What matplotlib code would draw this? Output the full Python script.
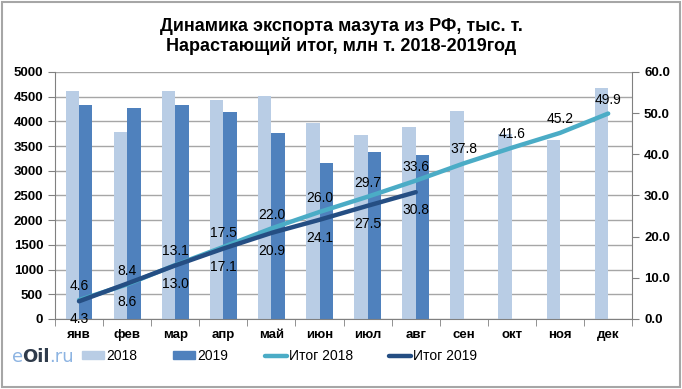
import matplotlib.pyplot as plt
import numpy as np
from matplotlib.patches import Rectangle
from matplotlib.lines import Line2D

plt.rcParams['font.family'] = ['Liberation Sans', 'DejaVu Sans']

# Данные
months = ["янв", "фев", "мар", "апр", "май", "июн", "июл", "авг", "сен", "окт", "ноя", "дек"]
export_2018 = [4620, 3790, 4620, 4430, 4510, 3970, 3730, 3890, 4200, 3750, 3620, 4670]
export_2019 = [4330, 4270, 4330, 4190, 3770, 3150, 3390, 3310]
total_2018 = [4.6, 8.4, 13.1, 17.5, 22.0, 26.0, 29.7, 33.6, 37.8, 41.6, 45.2, 49.9]
total_2019 = [4.3, 8.6, 13.0, 17.1, 20.9, 24.1, 27.5, 30.8]

c18 = "#B9CDE5"
c19 = "#4F81BD"
cl18 = "#4BACC6"
cl19 = "#254E83"

fig = plt.figure(figsize=(6.82, 3.89), dpi=100)
fig.patches.append(Rectangle((0.003, 0.005), 0.994, 0.99, transform=fig.transFigure,
                             fill=False, edgecolor="#A6A6A6", linewidth=1.5))

ax = fig.add_axes([0.0806, 0.18, 0.8464, 0.635])
x = np.arange(len(months))
w = 0.28
ax.bar(x[:len(export_2018)] - w / 2, export_2018, width=w, color=c18, zorder=2)
ax.bar(x[:len(export_2019)] + w / 2, export_2019, width=w, color=c19, zorder=2)
ax.set_xlim(-0.5, 11.5)
ax.set_ylim(0, 5000)
ax.set_yticks(range(0, 5001, 500))
ax.yaxis.grid(True, color="#A6A6A6", linewidth=1, zorder=0)
ax.set_axisbelow(True)
ax.set_xticks(x)
ax.set_xticklabels(months)
ax.set_xticks(np.arange(-0.5, 12, 1), minor=True)
ax.tick_params(axis="x", which="major", length=0, pad=7)
ax.tick_params(axis="x", which="minor", length=5, color="#808080")
ax.tick_params(axis="y", length=5, color="#808080")
for lab in ax.get_xticklabels() + ax.get_yticklabels():
    lab.set_fontweight("bold")
    lab.set_fontsize(9.5)
for s in ["top", "right"]:
    ax.spines[s].set_visible(False)
for s in ["left", "bottom"]:
    ax.spines[s].set_color("#808080")

ax2 = ax.twinx()
ax2.set_ylim(0, 60)
ax2.set_yticks(range(0, 61, 10))
ax2.set_yticklabels([f"{v:.1f}" for v in range(0, 61, 10)])
ax2.plot(x[:len(total_2018)], total_2018, color=cl18, linewidth=3.2, solid_capstyle="round", zorder=3)
ax2.plot(x[:len(total_2019)], total_2019, color=cl19, linewidth=3.2, solid_capstyle="round", zorder=4)
ax2.tick_params(axis="y", length=5, color="#808080")
for lab in ax2.get_yticklabels():
    lab.set_fontweight("bold")
    lab.set_fontsize(9.5)
for s in ["top", "left", "bottom"]:
    ax2.spines[s].set_visible(False)
ax2.spines["right"].set_color("#808080")

for i, v in enumerate(total_2018):
    ax2.annotate(f"{v:.1f}", (i, v), xytext=(0, 10), textcoords="offset points",
                 ha="center", va="center", fontsize=10, clip_on=False, zorder=5)
for i, v in enumerate(total_2019):
    ax2.annotate(f"{v:.1f}", (i, v), xytext=(0, -13), textcoords="offset points",
                 ha="center", va="center", fontsize=10, clip_on=False, zorder=5)

fig.text(0.5, 0.955, "Динамика экспорта мазута из РФ, тыс. т.\nНарастающий итог, млн т. 2018-2019год",
         ha="center", va="top", fontsize=13, fontweight="bold", linespacing=1.15)

handles = [
    Rectangle((0, 0), 1, 1, color=c18),
    Rectangle((0, 0), 1, 1, color=c19),
    Line2D([0], [0], color=cl18, linewidth=3.2, solid_capstyle="round"),
    Line2D([0], [0], color=cl19, linewidth=3.2, solid_capstyle="round"),
]
fig.legend(handles, ["2018", "2019", "Итог 2018", "Итог 2019"], loc="center",
           bbox_to_anchor=(0.41, 0.085), ncol=4, frameon=False, columnspacing=2.6,
           handlelength=1.6, handleheight=0.45, handletextpad=0.15,
           prop={"size": 10})

# логотип eOil.ru
renderer = fig.canvas.get_renderer()
xpos = 12
for part, col, wt in [("e", "#8DB4E2", "normal"), ("Oil", "#2F3B4B", "bold"), (".ru", "#8DB4E2", "normal")]:
    t = fig.text(xpos / 682, 0.083, part, color=col, fontsize=13, fontweight=wt,
                 ha="left", va="center", family="DejaVu Sans")
    xpos += t.get_window_extent(renderer).width - 1

fig.savefig("out.png", dpi=100)
